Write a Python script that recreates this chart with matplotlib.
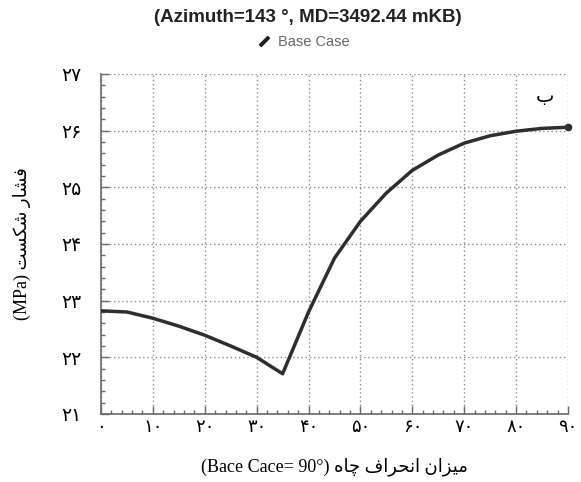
import matplotlib
matplotlib.use('Agg')
import matplotlib.pyplot as plt
from matplotlib.lines import Line2D
from matplotlib.ticker import MultipleLocator

# well deviation (deg) vs fracture pressure (MPa)
deviation = [0, 5, 10, 15, 20, 25, 30, 35, 40, 45, 50, 55, 60, 65, 70, 75, 80, 85, 90]
pressure = [22.82, 22.80, 22.69, 22.55, 22.39, 22.20, 22.00, 21.71, 22.80, 23.75,
            24.40, 24.90, 25.30, 25.57, 25.78, 25.91, 25.99, 26.04, 26.06]

x_ticks = [0, 10, 20, 30, 40, 50, 60, 70, 80, 90]
x_tick_labels = ['۰', '۱۰', '۲۰', '۳۰', '۴۰', '۵۰', '۶۰', '۷۰', '۸۰', '۹۰']
y_ticks = [21, 22, 23, 24, 25, 26, 27]
y_tick_labels = ['۲۱', '۲۲', '۲۳', '۲۴', '۲۵', '۲۶', '۲۷']

title = '(Azimuth=143 °, MD=3492.44 mKB)'
series_name = 'Base Case'
x_title = 'میزان انحراف چاه'
y_title = 'فشار شکست'
panel_tag = 'ب'

# matplotlib has no arabic shaping, so pick presentation forms by hand
# (isolated, final, initial, medial)
FORMS = {
    'ا': ('\uFE8D', '\uFE8E', None, None),
    'ر': ('\uFEAD', '\uFEAE', None, None),
    'ز': ('\uFEAF', '\uFEB0', None, None),
    'ب': ('\uFE8F', '\uFE90', '\uFE91', '\uFE92'),
    'ت': ('\uFE95', '\uFE96', '\uFE97', '\uFE98'),
    'ح': ('\uFEA1', '\uFEA2', '\uFEA3', '\uFEA4'),
    'س': ('\uFEB1', '\uFEB2', '\uFEB3', '\uFEB4'),
    'ش': ('\uFEB5', '\uFEB6', '\uFEB7', '\uFEB8'),
    'ف': ('\uFED1', '\uFED2', '\uFED3', '\uFED4'),
    'م': ('\uFEE1', '\uFEE2', '\uFEE3', '\uFEE4'),
    'ن': ('\uFEE5', '\uFEE6', '\uFEE7', '\uFEE8'),
    'ه': ('\uFEE9', '\uFEEA', '\uFEEB', '\uFEEC'),
    'ی': ('\uFBFC', '\uFBFD', '\uFBFE', '\uFBFF'),
    'چ': ('\uFB7A', '\uFB7B', '\uFB7C', '\uFB7D'),
    'ک': ('\uFB8E', '\uFB8F', '\uFB90', '\uFB91'),
}


def joins_next(c):
    return c in FORMS and FORMS[c][2] is not None


def shape_word(word):
    out = []
    for i, c in enumerate(word):
        if c not in FORMS:
            out.append(c)
            continue
        before = i > 0 and joins_next(word[i - 1])
        after = i < len(word) - 1 and joins_next(c) and word[i + 1] in FORMS
        iso, fin, ini, med = FORMS[c]
        if before and after:
            out.append(med)
        elif before:
            out.append(fin)
        elif after:
            out.append(ini)
        else:
            out.append(iso)
    return ''.join(reversed(out))


def rtl(text):
    return ' '.join(shape_word(w) for w in reversed(text.split(' ')))


mixed = ['Liberation Serif', 'DejaVu Sans']
linecolor = '#2e2e2e'
gridcolor = '#8c8c8c'
spinecolor = '#6a6a6a'

fig = plt.figure(figsize=(5.81, 4.82), dpi=100, facecolor='white')
ax = fig.add_axes([0.1738, 0.1411, 0.8038, 0.7054])

ax.plot(deviation, pressure, color=linecolor, linewidth=2.5, solid_capstyle='round', zorder=3)
ax.plot(deviation[-1], pressure[-1], 'o', color=linecolor, markersize=4.5, clip_on=False, zorder=4)

ax.set_xlim(0, 90)
ax.set_ylim(21, 27)
ax.set_xticks(x_ticks)
ax.set_xticklabels(x_tick_labels, fontsize=13, family='DejaVu Sans')
ax.set_yticks(y_ticks)
ax.set_yticklabels(y_tick_labels, fontsize=13.5, family='DejaVu Sans')
ax.xaxis.set_minor_locator(MultipleLocator(2))
ax.yaxis.set_minor_locator(MultipleLocator(0.2))
ax.tick_params(which='both', direction='in', color=spinecolor, width=1)
ax.tick_params(which='major', length=6)
ax.tick_params(which='minor', length=3)
ax.tick_params(axis='x', pad=3)
ax.tick_params(axis='y', pad=14)

ax.grid(True, which='major', color=gridcolor, linestyle=(0, (1, 2)), linewidth=1)
ax.set_axisbelow(True)
for side in ['top', 'right']:
    ax.spines[side].set_visible(False)
for side in ['left', 'bottom']:
    ax.spines[side].set_color(spinecolor)
    ax.spines[side].set_linewidth(1.2)

ax.set_xlabel('(Bace Cace= 90°) ' + rtl(x_title), family=mixed, fontsize=13, labelpad=15)
ax.set_ylabel('(MPa) ' + rtl(y_title), family=mixed, fontsize=13, labelpad=22)
ax.text(85.5, 26.6, rtl(panel_tag), family='DejaVu Sans', fontsize=14, ha='center', va='center')

fig.text(308 / 581, 1 - 18 / 482, title, family='Liberation Sans', fontweight='bold',
         fontsize=13.5, ha='center', va='center', color='#222222')
pencil = Line2D([], [], linestyle='none', marker=(2, 2, -45), markersize=9,
                markeredgewidth=2.6, color='#222222')
fig.legend(handles=[pencil], labels=[series_name], loc='center',
           bbox_to_anchor=(303 / 581, 1 - 42 / 482), frameon=False,
           labelcolor='#666666', handlelength=1, handletextpad=0.5,
           prop={'family': 'Liberation Sans', 'size': 10.5})

fig.savefig('out.png', dpi=100, facecolor='white')
